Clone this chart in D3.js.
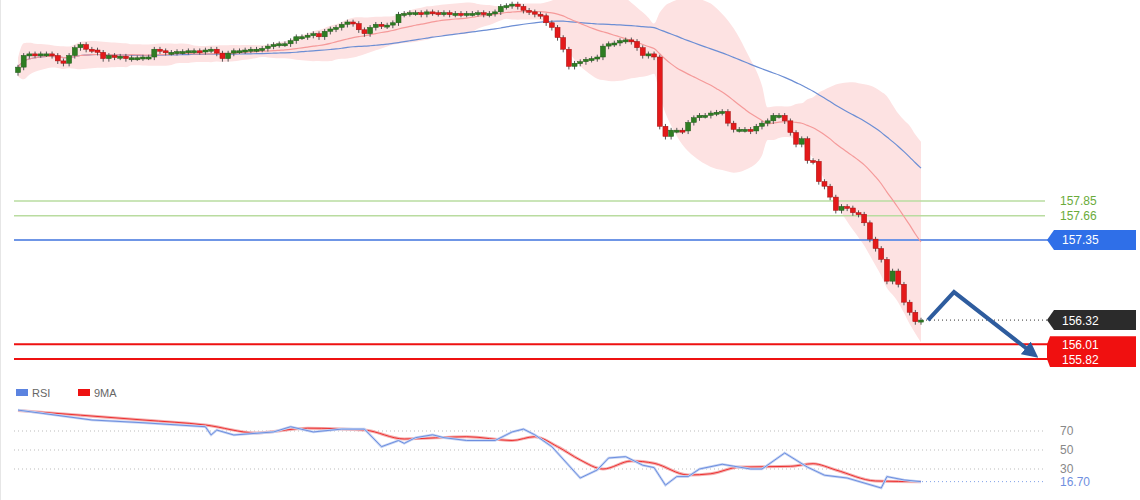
<!DOCTYPE html>
<html><head><meta charset="utf-8">
<script src="https://cdn.jsdelivr.net/npm/d3@7/dist/d3.min.js"></script>
<style>body{margin:0;background:#fff;font-family:"Liberation Sans",Arial,sans-serif}</style>
</head><body><svg id="c" width="1140" height="500"></svg>
<script>
const closes = [
159.57,159.72,159.74,159.73,159.74,159.74,159.72,159.65,159.62,159.72,
159.82,159.86,159.80,159.79,159.76,159.68,159.72,159.70,159.71,159.68,
159.69,159.69,159.70,159.70,159.80,159.78,159.76,159.76,159.77,159.77,
159.78,159.78,159.77,159.79,159.80,159.75,159.68,159.75,159.78,159.78,
159.79,159.80,159.80,159.81,159.84,159.86,159.87,159.87,159.91,159.96,
159.96,159.98,160.00,159.96,160.03,160.06,160.08,160.12,160.15,160.13,
160.05,160.00,160.08,160.12,160.10,160.11,160.14,160.25,160.26,160.27,
160.27,160.25,160.28,160.27,160.26,160.27,160.25,160.26,160.25,160.26,
160.26,160.27,160.25,160.26,160.28,160.35,160.36,160.38,160.35,160.30,
160.28,160.25,160.23,160.14,160.08,159.95,159.80,159.58,159.62,159.64,
159.67,159.68,159.70,159.84,159.87,159.88,159.91,159.92,159.90,159.82,
159.72,159.74,159.70,158.81,158.68,158.76,158.76,158.75,158.86,158.92,
158.95,158.95,158.98,158.99,159.00,158.85,158.77,158.77,158.77,158.75,
158.81,158.85,158.88,158.95,158.95,158.88,158.73,158.58,158.65,158.37,
158.36,158.10,158.04,157.90,157.73,157.78,157.76,157.70,157.68,157.57,
157.36,157.24,157.10,156.82,156.95,156.78,156.55,156.42,156.30,156.32];
const firstOpen = 159.50;
const levelsGreen = [157.85, 157.66];
const levelBlue = 157.35;
const lastPrice = 156.32;
const levelsRed = [156.01, 155.82];
const rsiIdx = [0,13,22,33,34,35,38,45,48,52,57,61,64,67,68,70,73,75,79,84,87,89,91,94,99,102,104,107,110,112,114,116,118,120,124,126,129,131,135,139,142,146,152,153,156,159];
const rsiVal = [92,81.6,78.7,74.5,65.8,71,65.8,69,74.5,69,72,72,53.5,60,57,63,66,63,60,60,69,72,66,53.5,20.5,29,41.6,43,34,31.5,13,22,22,30,35,33,30,30,46.8,32,23.5,20.5,10,22,18.5,16.7];
const maIdx = [0,22,33,42,51,61,68,79,87,91,95,99,103,108,112,118,122,127,136,140,144,151,159];
const maVal = [91.6,81.6,76.3,68,73,71,61.6,64,60,64,53.5,39.5,30,38.4,36,23.7,25,32,32.8,35.6,29,17.4,16.7];
const rsiTicks = [70,50,30];
const rsiLast = "16.70";

const svg = d3.select("#c");
const n = closes.length;
const x = d3.scaleLinear().domain([0, n-1]).range([18, 921]);
const y = d3.scaleLinear().domain([155.82, 157.85]).range([359, 201]);
const yr = d3.scaleLinear().domain([30, 70]).range([469, 431]);

function sma(p){return closes.map((c,i)=>d3.mean(closes.slice(Math.max(0,i-p+1),i+1)));}
const ma20 = sma(20), ma50 = sma(50);
const sd20 = closes.map((c,i)=>{const s=closes.slice(Math.max(0,i-19),i+1);return s.length>1?d3.deviation(s):0.05;});
const band = d3.area().x((d,i)=>x(i)).y0((d,i)=>y(ma20[i]-2*sd20[i]-0.02)).y1((d,i)=>y(ma20[i]+2*sd20[i]+0.02)).curve(d3.curveMonotoneX);
svg.append("path").datum(closes).attr("d",band).attr("fill","#fde2e2");
svg.append("line").attr("x1",0.5).attr("x2",0.5).attr("y1",0).attr("y2",500).attr("stroke","#e6e6e6");

levelsGreen.forEach(v=>{
  svg.append("line").attr("x1",14).attr("x2",1045).attr("y1",y(v)).attr("y2",y(v)).attr("stroke","#b9dca0").attr("stroke-width",1.5);
  svg.append("text").attr("x",1060).attr("y",y(v)+4).attr("fill","#6aab3a").attr("font-size",12).text(v.toFixed(2));
});
svg.append("line").attr("x1",14).attr("x2",1050).attr("y1",y(levelBlue)).attr("y2",y(levelBlue)).attr("stroke","#6f96e6").attr("stroke-width",2);
levelsRed.forEach(v=>svg.append("line").attr("x1",14).attr("x2",1050).attr("y1",y(v)).attr("y2",y(v)).attr("stroke","#ee1111").attr("stroke-width",2));
svg.append("line").attr("x1",922).attr("x2",1050).attr("y1",y(lastPrice)).attr("y2",y(lastPrice)).attr("stroke","#333").attr("stroke-dasharray","1,3");

const line = (arr)=>d3.line().x((d,i)=>x(i)).y(d=>y(d)).curve(d3.curveMonotoneX)(arr);
svg.append("path").attr("d",line(ma50)).attr("fill","none").attr("stroke","#6c8ed4").attr("stroke-width",1.2);
svg.append("path").attr("d",line(ma20)).attr("fill","none").attr("stroke","#f59a9a").attr("stroke-width",1.2);

closes.forEach((c,i)=>{
  const o = i===0?firstOpen:closes[i-1];
  const up = c>=o;
  const hi = Math.max(o,c)+0.03, lo = Math.min(o,c)-0.04;
  const g = svg.append("g");
  g.append("line").attr("x1",x(i)).attr("x2",x(i)).attr("y1",y(hi)).attr("y2",y(lo)).attr("stroke","#555");
  const top=y(Math.max(o,c)), h=Math.max(2,y(Math.min(o,c))-top);
  g.append("rect").attr("x",x(i)-2.5).attr("width",5).attr("y",top).attr("height",h)
   .attr("fill",up?"#2e7d22":"#e4191a").attr("stroke",up?"#1f5a18":"#a31010").attr("stroke-width",0.5);
});

function tag(yv,h,fill){
  const yc=y(yv);
  svg.append("path").attr("d",`M1047,${yc} L1054,${yc-h/2} L1136,${yc-h/2} L1136,${yc+h/2} L1054,${yc+h/2} Z`).attr("fill",fill);
}
tag(levelBlue,20,"#2f6fe8");
svg.append("text").attr("x",1062).attr("y",y(levelBlue)+4.5).attr("fill","#fff").attr("font-size",12).text(levelBlue.toFixed(2));
tag(lastPrice,20,"#2b2b2b");
svg.append("text").attr("x",1062).attr("y",y(lastPrice)+4.5).attr("fill","#fff").attr("font-size",12).text(lastPrice.toFixed(2));
const ry1=y(levelsRed[0])-8, ry2=y(levelsRed[1])+8;
svg.append("path").attr("d",`M1047,${y(levelsRed[0])} L1050,${ry1} L1136,${ry1} L1136,${ry2} L1050,${ry2} L1047,${y(levelsRed[1])} Z`).attr("fill","#f01010");
levelsRed.forEach(v=>svg.append("text").attr("x",1062).attr("y",y(v)+4.5).attr("fill","#fff").attr("font-size",12).text(v.toFixed(2)));

svg.append("defs").append("marker").attr("id","ah").attr("viewBox","0 0 10 10").attr("refX",5).attr("refY",5)
 .attr("markerWidth",4).attr("markerHeight",4).attr("orient","auto").append("path").attr("d","M0,0 L10,5 L0,10 Z").attr("fill","#2e5c9e");
svg.append("path").attr("d",`M928,${y(156.32)} L954,${y(156.68)} L1032,${y(155.90)}`).attr("fill","none")
 .attr("stroke","#2e5c9e").attr("stroke-width",4).attr("marker-end","url(#ah)");

svg.append("rect").attr("x",16).attr("y",389).attr("width",12).attr("height",7).attr("fill","#5b83e0");
svg.append("text").attr("x",32).attr("y",397).attr("font-size",11).attr("fill","#666").text("RSI");
svg.append("rect").attr("x",78).attr("y",389).attr("width",12).attr("height",7).attr("fill","#ee1111");
svg.append("text").attr("x",94).attr("y",397).attr("font-size",11).attr("fill","#666").text("9MA");
rsiTicks.forEach(t=>{
  svg.append("line").attr("x1",14).attr("x2",1045).attr("y1",yr(t)).attr("y2",yr(t)).attr("stroke","#bbb").attr("stroke-dasharray","1,3");
  svg.append("text").attr("x",1060).attr("y",yr(t)+4).attr("font-size",12).attr("fill","#888").text(t);
});
svg.append("line").attr("x1",922).attr("x2",1045).attr("y1",yr(16.7)).attr("y2",yr(16.7)).attr("stroke","#7fa0e8").attr("stroke-dasharray","1,3");
svg.append("text").attr("x",1060).attr("y",yr(16.7)+4).attr("font-size",12).attr("fill","#6f8fe0").text(rsiLast);
const maLine = d3.line().x(d=>x(d[0])).y(d=>yr(d[1])).curve(d3.curveMonotoneX)(maIdx.map((d,i)=>[d,maVal[i]]));
svg.append("path").attr("d",maLine).attr("fill","none").attr("stroke","#f3b0b0").attr("stroke-width",3);
svg.append("path").attr("d",maLine).attr("fill","none").attr("stroke","#ee3030").attr("stroke-width",1);
const rl = d3.line().x(d=>x(d[0])).y(d=>yr(d[1]));
svg.append("path").attr("d",rl(rsiIdx.map((d,i)=>[d,rsiVal[i]]))).attr("fill","none").attr("stroke","#c5d3f3").attr("stroke-width",2.5);
svg.append("path").attr("d",rl(rsiIdx.map((d,i)=>[d,rsiVal[i]]))).attr("fill","none").attr("stroke","#6d8fe0").attr("stroke-width",1);
</script></body></html>
